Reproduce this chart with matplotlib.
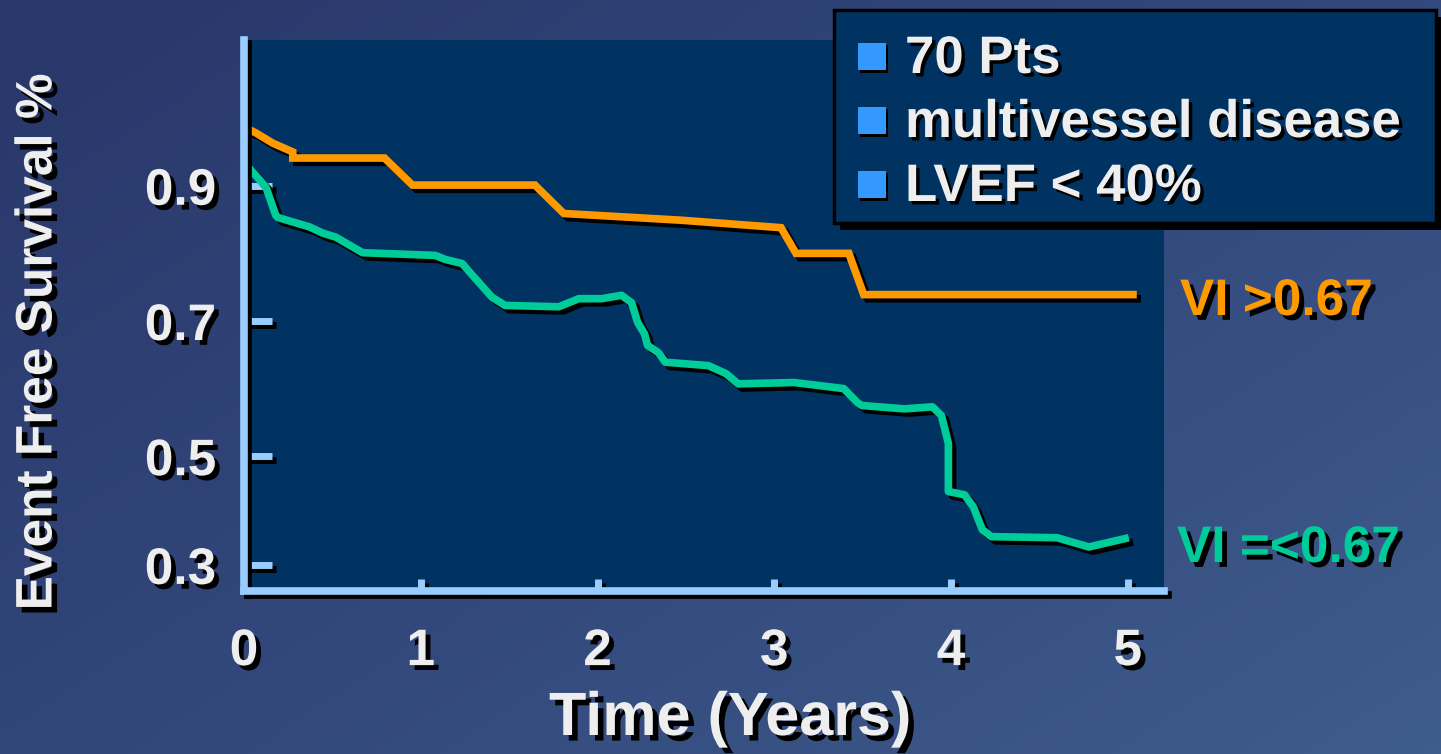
import numpy as np
import matplotlib
matplotlib.use('Agg')
import matplotlib.pyplot as plt
import matplotlib.patheffects as pe
from matplotlib.patches import Rectangle
from matplotlib.colors import LinearSegmentedColormap

# follow-up time (years) and event free survival for the two VI groups
t_high = [0.0, 0.068, 0.163, 0.276, 0.276, 0.795, 0.953, 1.646, 1.809, 2.475,
          3.038, 3.123, 3.422, 3.506, 5.051]
s_high = [0.987, 0.978, 0.963, 0.950, 0.941, 0.941, 0.901, 0.901, 0.859, 0.849,
          0.838, 0.800, 0.800, 0.739, 0.739]

t_low = [0.0, 0.124, 0.180, 0.192, 0.372, 0.445, 0.519, 0.671, 1.082, 1.139,
         1.234, 1.404, 1.477, 1.781, 1.894, 2.024, 2.136, 2.193, 2.227, 2.266,
         2.283, 2.345, 2.384, 2.627, 2.728, 2.796, 3.112, 3.393, 3.472, 3.495,
         3.737, 3.895, 3.946, 3.985, 3.985, 4.076, 4.126, 4.177, 4.228, 4.600,
         4.780, 5.006]
s_low = [0.935, 0.898, 0.856, 0.853, 0.839, 0.830, 0.824, 0.801, 0.797, 0.791,
         0.785, 0.735, 0.723, 0.721, 0.733, 0.733, 0.738, 0.727, 0.698, 0.681,
         0.664, 0.653, 0.639, 0.634, 0.622, 0.607, 0.609, 0.600, 0.579, 0.575,
         0.570, 0.573, 0.560, 0.519, 0.435, 0.429, 0.407, 0.365, 0.352, 0.350,
         0.333, 0.350]

x_ticks = [0, 1, 2, 3, 4, 5]
y_ticks = [0.3, 0.5, 0.7, 0.9]
y_ticklabels = ['0.3', '0.5', '0.7', '0.9']
notes = ['70 Pts', 'multivessel disease', 'LVEF < 40%']
label_high = 'VI >0.67'
label_low = 'VI =<0.67'

W, H = 1441, 754
NAVY = '#003262'
AXIS = '#99ccff'
ORANGE = '#ff9900'
GREEN = '#00cc99'
WHITE = '#eeeeee'
FONT = 'Liberation Sans'


def fx(x):
    return x / W


def fy(y):
    return 1 - y / H


def shadow_txt(dx=3.5, dy=-3.5):
    return [pe.SimplePatchShadow(offset=(dx, dy), shadow_rgbFace='black', alpha=1.0), pe.Normal()]


def shadow_line(dx=3, dy=-3):
    return [pe.SimpleLineShadow(offset=(dx, dy), shadow_color='black', alpha=1.0), pe.Normal()]


# y axis is compressed below 0.5
def fwd(v):
    v = np.asarray(v, dtype=float)
    return np.where(v < 0.5, 0.5 - (0.5 - v) * 0.804, v)


def inv(u):
    u = np.asarray(u, dtype=float)
    return np.where(u < 0.5, 0.5 - (0.5 - u) / 0.804, u)


fig = plt.figure(figsize=(W / 100, H / 100), dpi=100)

# slide background
bg = fig.add_axes([0, 0, 1, 1], zorder=-10)
gx, gy = np.meshgrid(np.linspace(0, 1, 300), np.linspace(0, 1, 160))
grad = 0.55 * gx + 0.45 * gy
cmap = LinearSegmentedColormap.from_list('slide', ['#29376a', '#32477b', '#3e5c8c'])
bg.imshow(grad, cmap=cmap, aspect='auto', extent=[0, 1, 0, 1], origin='upper')
bg.axis('off')

# main plot
ax_left, ax_top, ax_right, ax_bot = 244, 40, 1164, 591
ax = fig.add_axes([fx(ax_left), fy(ax_bot), fx(ax_right - ax_left), (ax_bot - ax_top) / H])
ax.set_facecolor(NAVY)
ax.set_yscale('function', functions=(fwd, inv))
ax.set_xlim(0.017, 5.205)
ax.set_ylim(0.252, 1.1156)

ax.plot(t_high, s_high, color=ORANGE, lw=5.5, solid_joinstyle='miter',
        solid_capstyle='butt', path_effects=shadow_line())
ax.plot(t_low, s_low, color=GREEN, lw=5.5, solid_joinstyle='round',
        solid_capstyle='butt', path_effects=shadow_line())

for side in ['top', 'right']:
    ax.spines[side].set_visible(False)
for side in ['left', 'bottom']:
    ax.spines[side].set_color(AXIS)
    ax.spines[side].set_linewidth(5.5)
    ax.spines[side].set_capstyle('projecting')
    ax.spines[side].set_path_effects(shadow_line())

ax.set_xticks(x_ticks)
ax.set_xticklabels([str(v) for v in x_ticks])
ax.set_yticks(y_ticks)
ax.set_yticklabels(y_ticklabels)
ax.minorticks_off()
ax.tick_params(axis='y', direction='in', length=20, width=5, color=AXIS, pad=20)
ax.tick_params(axis='x', direction='in', length=9, width=5, color=AXIS, pad=26)
for tk in ax.xaxis.get_major_ticks() + ax.yaxis.get_major_ticks():
    tk.tick1line.set_path_effects(shadow_line())
ax.xaxis.get_major_ticks()[0].tick1line.set_visible(False)
for lab in ax.get_xticklabels() + ax.get_yticklabels():
    lab.set_fontfamily(FONT)
    lab.set_fontweight('bold')
    lab.set_fontsize(37)
    lab.set_color(WHITE)
    lab.set_path_effects(shadow_txt())

# axis titles
fig.text(fx(730), fy(735), 'Time (Years)', ha='center', va='baseline',
         fontsize=44, fontweight='bold', family=FONT, color=WHITE,
         path_effects=shadow_txt(4, -4))
fig.text(fx(38), fy(342), 'Event Free Survival %', ha='center', va='center',
         rotation=90, fontsize=37, fontweight='bold', family=FONT, color=WHITE,
         path_effects=shadow_txt(4, -4))

# group labels
fig.text(fx(1180), fy(315), label_high, ha='left', va='baseline', fontsize=37,
         fontweight='bold', family=FONT, color=ORANGE, path_effects=shadow_txt())
fig.text(fx(1177), fy(562), label_low, ha='left', va='baseline', fontsize=37,
         fontweight='bold', family=FONT, color=GREEN, path_effects=shadow_txt())

# study notes box
bx0, by0, bx1, by1 = 834, 10, 1436, 223
fig.patches.append(Rectangle((fx(bx0 + 6), fy(by1 + 7)), fx(bx1 - bx0), (by1 - by0) / H,
                             transform=fig.transFigure, facecolor='black', edgecolor='none',
                             zorder=5))
fig.patches.append(Rectangle((fx(bx0), fy(by1)), fx(bx1 - bx0), (by1 - by0) / H,
                             transform=fig.transFigure, facecolor=NAVY, edgecolor='black',
                             linewidth=2.5, zorder=6))
for i, note in enumerate(notes):
    base = 73 + i * 64
    fig.text(fx(872), fy(base - 17), '\u25a0', ha='center', va='center', fontsize=26,
             family='DejaVu Sans', color='#3399ff', zorder=7,
             path_effects=shadow_txt(1.5, -1.5))
    fig.text(fx(905), fy(base), note, ha='left', va='baseline', fontsize=38,
             fontweight='bold', family=FONT, color=WHITE, zorder=7,
             path_effects=shadow_txt(2.5, -2.5))

fig.savefig('out.png', dpi=100)
